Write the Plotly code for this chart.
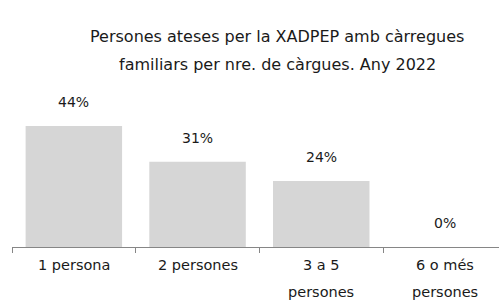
import plotly.graph_objects as go

categories = ["1 persona", "2 persones", "3 a 5 persones", "6 o més persones"]
tick_line1 = ["1 persona", "2 persones", "3 a 5", "6 o més"]
tick_line2 = ["", "", "persones", "persones"]
values = [44, 31, 24, 0]
labels = ["44%", "31%", "24%", "0%"]
title_lines = ["Persones ateses per la XADPEP amb càrregues",
               "familiars per nre. de càrgues. Any 2022"]

FONT = "DejaVu Sans"
TXT = "#1a1a1a"
PX = 2.75  # px per unit
TOP, BASE = 110, 247
PH = BASE - TOP


def py(ypx):
    return (BASE - ypx) / PH


fig = go.Figure()
fig.add_trace(go.Bar(x=list(range(len(categories))), y=values,
                     marker=dict(color="#d6d6d6", line=dict(width=0)),
                     width=0.78, hoverinfo="skip"))

ann = []
for i, (v, lab) in enumerate(zip(values, labels)):
    ann.append(dict(x=i, y=v, xref="x", yref="y", text=lab, showarrow=False,
                    yshift=24, font=dict(family=FONT, size=14, color=TXT)))
for i, (l1, l2) in enumerate(zip(tick_line1, tick_line2)):
    ann.append(dict(x=i, y=py(275), xref="x", yref="paper", text=l1, showarrow=False,
                    font=dict(family=FONT, size=14.5, color=TXT)))
    if l2:
        ann.append(dict(x=i, y=py(302), xref="x", yref="paper", text=l2, showarrow=False,
                        font=dict(family=FONT, size=14.5, color=TXT)))
for t, ypx in zip(title_lines, [25, 53]):
    ann.append(dict(x=(277 - 12) / 487, y=py(ypx), xref="paper", yref="paper",
                    text=t, showarrow=False,
                    font=dict(family=FONT, size=16, color=TXT)))

fig.update_layout(
    width=499, height=308,
    margin=dict(l=12, r=0, t=TOP, b=308 - BASE),
    paper_bgcolor="white", plot_bgcolor="white",
    showlegend=False,
    annotations=ann,
    xaxis=dict(range=[-0.5, 3.437], tickmode="array",
               tickvals=[-0.5, 0.5, 1.5, 2.5, 3.5], showticklabels=False,
               ticks="outside", ticklen=5, tickcolor="#868686",
               showline=True, linecolor="#868686", linewidth=1,
               showgrid=False, zeroline=False, fixedrange=True),
    yaxis=dict(range=[0, PH / PX], visible=False, fixedrange=True),
)
fig.write_html("out.html", config={"displayModeBar": False},
               post_script="document.body.style.margin='0';")
